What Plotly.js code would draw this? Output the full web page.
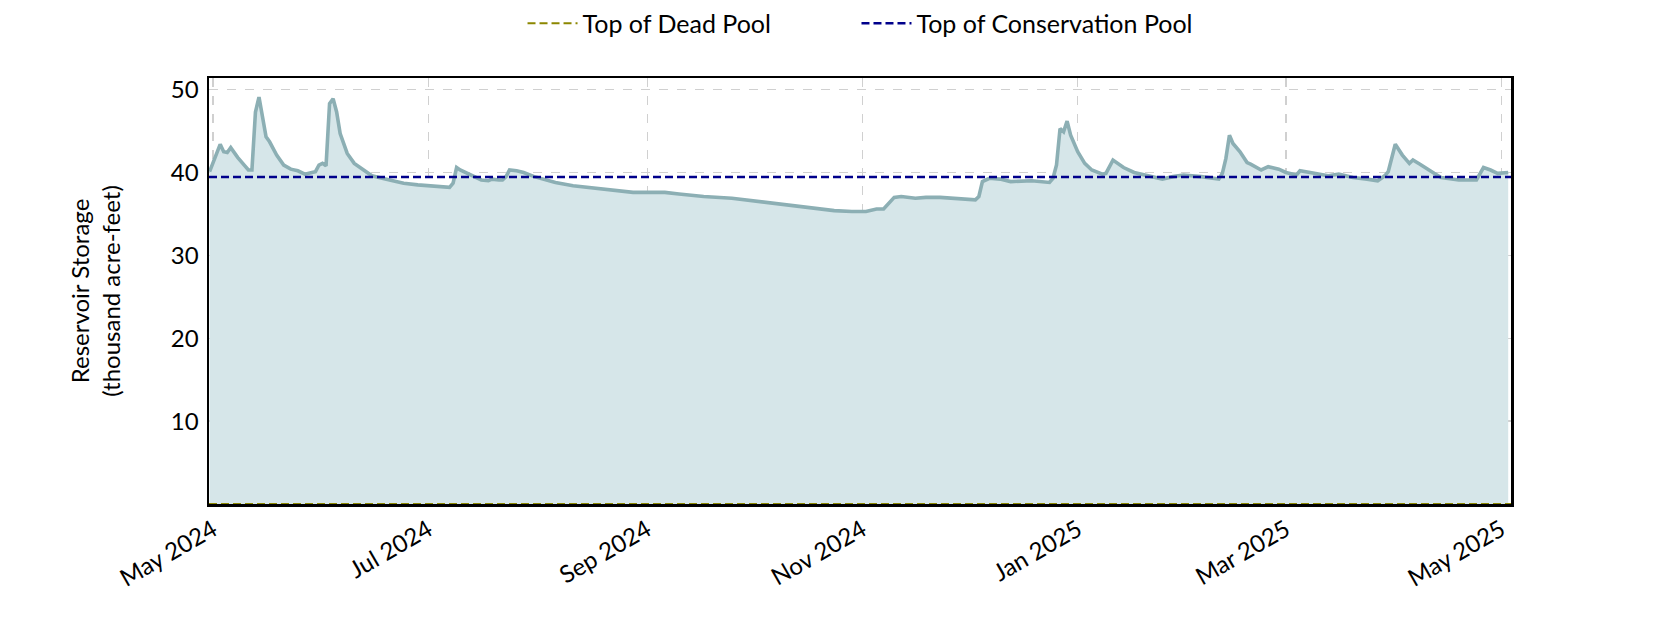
<!DOCTYPE html>
<html>
<head>
<meta charset="utf-8">
<script src="https://cdn.plot.ly/plotly-3.0.1.min.js"></script>
<style>
  html, body { margin: 0; padding: 0; background: #ffffff; }
  #chart { width: 1680px; height: 630px; }
</style>
</head>
<body>
<div id="chart"></div>
<script>
// storage readings (thousand acre-feet)
var dates = [
	'2024-04-30','2024-05-03','2024-05-04','2024-05-05','2024-05-06','2024-05-08','2024-05-10','2024-05-11',
	'2024-05-12','2024-05-13','2024-05-14','2024-05-15','2024-05-16','2024-05-17','2024-05-19','2024-05-21',
	'2024-05-23','2024-05-25','2024-05-27','2024-05-29','2024-05-30','2024-05-31','2024-06-01','2024-06-02',
	'2024-06-03','2024-06-04','2024-06-05','2024-06-06','2024-06-08','2024-06-10','2024-06-11','2024-06-13',
	'2024-06-15','2024-06-20','2024-06-24','2024-06-28','2024-07-01','2024-07-04','2024-07-07','2024-07-08',
	'2024-07-09','2024-07-10','2024-07-12','2024-07-14','2024-07-16','2024-07-18','2024-07-19','2024-07-21',
	'2024-07-22','2024-07-23','2024-07-24','2024-07-26','2024-07-28','2024-07-31','2024-08-06','2024-08-11',
	'2024-08-20','2024-08-28','2024-09-02','2024-09-06','2024-09-10','2024-09-17','2024-09-25','2024-10-05',
	'2024-10-14','2024-10-17','2024-10-24','2024-10-29','2024-11-02','2024-11-05','2024-11-07','2024-11-10',
	'2024-11-12','2024-11-16','2024-11-19','2024-11-23','2024-11-29','2024-12-03','2024-12-04','2024-12-05',
	'2024-12-07','2024-12-10','2024-12-13','2024-12-16','2024-12-19','2024-12-24','2024-12-25','2024-12-26',
	'2024-12-27','2024-12-28','2024-12-29','2024-12-30','2025-01-01','2025-01-03','2025-01-05','2025-01-08',
	'2025-01-09','2025-01-11','2025-01-14','2025-01-17','2025-01-20','2025-01-25','2025-01-28','2025-01-31',
	'2025-02-05','2025-02-10','2025-02-11','2025-02-12','2025-02-13','2025-02-14','2025-02-16','2025-02-18',
	'2025-02-19','2025-02-22','2025-02-24','2025-02-27','2025-03-01','2025-03-04','2025-03-05','2025-03-09',
	'2025-03-13','2025-03-16','2025-03-20','2025-03-24','2025-03-27','2025-03-29','2025-03-30','2025-04-01',
	'2025-04-03','2025-04-05','2025-04-06','2025-04-08','2025-04-10','2025-04-12','2025-04-14','2025-04-19',
	'2025-04-24','2025-04-25','2025-04-26','2025-04-28','2025-04-30','2025-05-03'
];
var storage = [
	40.1, 43.4, 42.5, 42.4, 43.0, 41.8, 40.8, 40.3,
	40.3, 47.3, 49.1, 46.9, 44.3, 43.7, 42.1, 40.9,
	40.4, 40.2, 39.8, 40.0, 40.1, 40.9, 41.1, 40.8,
	48.3, 48.9, 47.3, 44.7, 42.3, 41.1, 40.8, 40.2,
	39.6, 39.1, 38.7, 38.5, 38.4, 38.3, 38.2, 38.7,
	40.6, 40.3, 39.9, 39.5, 39.1, 39.0, 39.2, 39.1,
	39.1, 39.5, 40.3, 40.2, 40.0, 39.5, 38.8, 38.4,
	38.0, 37.6, 37.6, 37.6, 37.4, 37.1, 36.9, 36.4,
	35.9, 35.7, 35.4, 35.3, 35.3, 35.6, 35.6, 37.0,
	37.1, 36.9, 37.0, 37.0, 36.8, 36.7, 37.1, 38.9,
	39.3, 39.2, 38.9, 39.0, 39.0, 38.8, 39.3, 40.9,
	45.3, 44.9, 46.2, 44.5, 42.5, 41.1, 40.3, 39.8,
	39.9, 41.5, 40.6, 40.0, 39.7, 39.2, 39.5, 39.7,
	39.5, 39.2, 39.9, 41.7, 44.5, 43.5, 42.5, 41.2,
	41.0, 40.3, 40.7, 40.4, 40.0, 39.7, 40.2, 39.9,
	39.6, 39.8, 39.4, 39.2, 39.0, 39.6, 40.1, 43.4,
	42.1, 41.1, 41.5, 41.0, 40.4, 39.9, 39.4, 39.1,
	39.1, 39.9, 40.6, 40.3, 39.9, 40.0
];

var xRange = ['2024-04-29 20:00', '2025-05-03 19:00'];
var deadPool = 0;
var conservationPool = 39.45;

var tickDates  = ['2024-05-01','2024-07-01','2024-09-01','2024-11-01','2025-01-01','2025-03-01','2025-05-01'];
var tickLabels = ['May 2024','Jul 2024','Sep 2024','Nov 2024','Jan 2025','Mar 2025','May 2025'];
var yTicks     = [10, 20, 30, 40, 50];

var FONT = 'Lato, "Open Sans", sans-serif';

var storageTrace = {
	x: dates,
	y: storage,
	mode: 'lines',
	fill: 'tozeroy',
	fillcolor: 'rgba(214,230,233,1)',
	line: {color: '#8cafb4', width: 3.6},
	showlegend: false,
	hoverinfo: 'skip'
};

var deadTrace = {
	name: 'Top of Dead Pool',
	x: xRange,
	y: [deadPool, deadPool],
	mode: 'lines',
	legend: 'legend',
	line: {color: '#8c8700', width: 2, dash: '8px,4px'}
};

var consTrace = {
	name: 'Top of Conservation Pool',
	x: xRange,
	y: [conservationPool, conservationPool],
	mode: 'lines',
	legend: 'legend2',
	line: {color: '#00008b', width: 2.5, dash: '8px,4px'}
};

// two one-item legends so the spacing between the entries can be set
function legendAt(xpos){
	return {
		orientation: 'h',
		x: xpos, xanchor: 'left',
		y: 1.128, yanchor: 'middle',
		font: {family: FONT, size: 25},
		itemwidth: 50,
		bgcolor: 'rgba(0,0,0,0)'
	};
}

var layout = {
	width: 1680,
	height: 630,
	margin: {l: 209, r: 169, t: 78, b: 126, autoexpand: false},
	paper_bgcolor: '#ffffff',
	plot_bgcolor: '#ffffff',
	font: {family: FONT, size: 24, color: '#000000'},
	showlegend: true,
	legend: legendAt(0.2408),
	legend2: legendAt(0.4973),
	xaxis: {
		type: 'date',
		range: xRange,
		tickvals: tickDates,
		ticktext: tickLabels,
		tickangle: -30,
		ticks: '',
		showgrid: true,
		gridcolor: '#d0d0d0',
		gridwidth: 1.3,
		griddash: 'dash',
		showline: true,
		linecolor: '#000000',
		linewidth: 2.5,
		mirror: true,
		zeroline: false,
		tickfont: {family: FONT, size: 24}
	},
	yaxis: {
		range: [0, 51.4],
		tickvals: yTicks,
		ticks: '',
		ticklabelstandoff: 3,
		showgrid: true,
		gridcolor: '#d0d0d0',
		gridwidth: 1.3,
		griddash: 'dash',
		showline: true,
		linecolor: '#000000',
		linewidth: 2.5,
		mirror: true,
		zeroline: false,
		tickfont: {family: FONT, size: 24},
		title: {
			text: 'Reservoir Storage<br>(thousand acre-feet)',
			font: {family: FONT, size: 24},
			standoff: 44
		},
		automargin: false
	}
};

Plotly.newPlot('chart', [storageTrace, deadTrace, consTrace], layout, {staticPlot: true, displayModeBar: false});
</script>
</body>
</html>
